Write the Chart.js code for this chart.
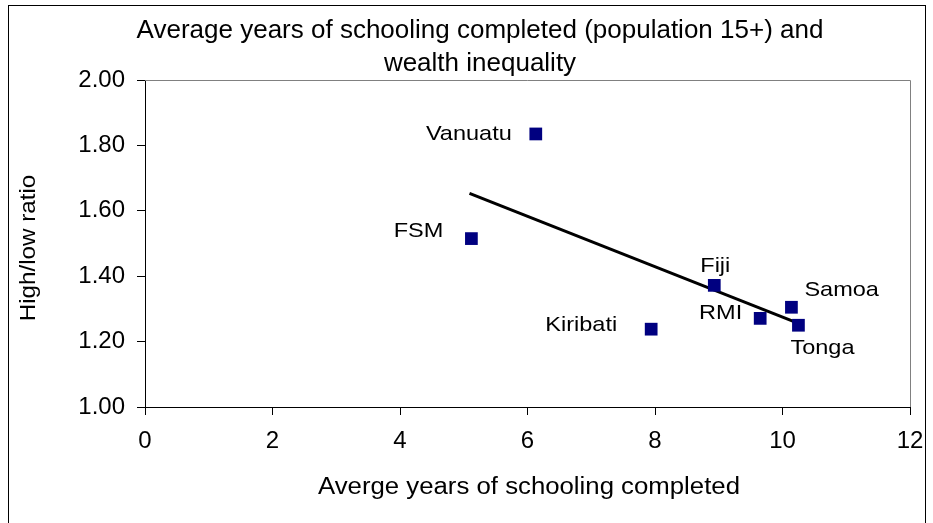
<!DOCTYPE html>
<html lang="en">
<head>
  <meta charset="UTF-8" />
  <title>Schooling and wealth inequality</title>
  <script src="https://cdn.jsdelivr.net/npm/chart.js"></script>
  <style>
    html, body { margin: 0; padding: 0; background: #fff; }
    #wrap { width: 933px; height: 523px; position: relative; }
  </style>
</head>
<body>
  <div id="wrap"><canvas id="chart" width="933" height="523"></canvas></div>

  <script>
    // data
    const countries = ['Vanuatu', 'FSM', 'Fiji', 'Kiribati', 'RMI', 'Samoa', 'Tonga'];
    const schooling = [6.13, 5.12, 8.93, 7.94, 9.65, 10.14, 10.25];
    const ratio = [1.835, 1.515, 1.372, 1.238, 1.271, 1.305, 1.250];
    const trendX = [5.09, 10.25];
    const trendY = [1.653, 1.256];
    const xTicks = [0, 2, 4, 6, 8, 10, 12];
    const yTicks = [1.0, 1.2, 1.4, 1.6, 1.8, 2.0];

    // label placement around the markers: [dx, dy, align]
    const labelPlace = [
      [-24, 0, 'right'],
      [-28, -7, 'right'],
      [1, -19, 'center'],
      [-34, -4, 'right'],
      [-18, -5, 'right'],
      [13, -17, 'left'],
      [-8, 23, 'left']
    ];

    const FONT = '"Liberation Sans", Arial, sans-serif';

    // text a little wider than the font, like the original
    function wideText(c, txt, x, y, size, sx, align) {
      c.save();
      c.font = size + 'px ' + FONT;
      c.textAlign = align;
      c.translate(x, y);
      c.scale(sx, 1);
      c.fillText(txt, 0, 0);
      c.restore();
    }

    // frame, titles, point labels
    const decorations = {
      id: 'decorations',
      beforeDraw(chart) {
        const c = chart.ctx;
        c.save();
        c.fillStyle = '#fff';
        c.fillRect(0, 0, chart.width, chart.height);
        c.strokeStyle = '#000';
        c.lineWidth = 1;
        c.strokeRect(8.5, 5.5, 917, 530);
        c.restore();
      },
      afterDraw(chart) {
        const c = chart.ctx;
        const a = chart.chartArea;
        const xs = chart.scales.x, ys = chart.scales.y;
        c.save();
        // gray plot border (top, right)
        c.strokeStyle = '#808080';
        c.lineWidth = 1;
        c.beginPath();
        c.moveTo(a.left, Math.round(a.top) + 0.5);
        c.lineTo(Math.round(a.right) + 0.5, Math.round(a.top) + 0.5);
        c.lineTo(Math.round(a.right) + 0.5, a.bottom);
        c.stroke();

        c.fillStyle = '#000';
        c.textBaseline = 'alphabetic';
        wideText(c, 'Average years of schooling completed (population 15+) and', 480, 38, 25, 1.04, 'center');
        wideText(c, 'wealth inequality', 480, 71, 25, 1.04, 'center');
        wideText(c, 'Averge years of schooling completed', 529, 494, 23, 1.12, 'center');

        c.save();
        c.translate(35, 248);
        c.rotate(-Math.PI / 2);
        wideText(c, 'High/low ratio', 0, 0, 22, 1.1, 'center');
        c.restore();

        c.textBaseline = 'middle';
        countries.forEach((name, i) => {
          const p = labelPlace[i];
          wideText(c, name, xs.getPixelForValue(schooling[i]) + p[0], ys.getPixelForValue(ratio[i]) + p[1], 21, 1.12, p[2]);
        });
        c.restore();
      }
    };

    new Chart(document.getElementById('chart'), {
      type: 'scatter',
      data: {
        datasets: [
          {
            label: 'Countries',
            data: countries.map((n, i) => ({ x: schooling[i], y: ratio[i] })),
            pointStyle: 'rect',
            pointRadius: 9,
            pointHoverRadius: 9,
            backgroundColor: '#000080',
            borderWidth: 0
          },
          {
            label: 'Trend',
            type: 'line',
            data: trendX.map((x, i) => ({ x: x, y: trendY[i] })),
            showLine: true,
            borderColor: '#000',
            borderWidth: 3,
            pointRadius: 0,
            fill: false
          }
        ]
      },
      options: {
        responsive: false,
        animation: false,
        events: [],
        layout: { padding: { left: 0, top: 80, right: 23, bottom: 0 } },
        plugins: {
          legend: { display: false },
          title: { display: false },
          tooltip: { enabled: false }
        },
        scales: {
          x: {
            type: 'linear',
            min: 0, max: 12,
            afterBuildTicks(s) { s.ticks = xTicks.map(v => ({ value: v })); },
            afterFit(s) { s.height = 116; s.paddingRight = 0; s.paddingLeft = 0; },
            border: { display: true, color: '#000', width: 1 },
            grid: { drawOnChartArea: false, drawTicks: true, tickLength: 8, color: '#000' },
            ticks: { color: '#000', font: { family: FONT, size: 24 }, padding: 12, maxRotation: 0 }
          },
          y: {
            type: 'linear',
            min: 1, max: 2,
            afterBuildTicks(s) { s.ticks = yTicks.map(v => ({ value: v })); },
            afterFit(s) { s.width = 145; s.paddingTop = 0; s.paddingBottom = 0; },
            border: { display: true, color: '#000', width: 1 },
            grid: { drawOnChartArea: false, drawTicks: true, tickLength: 8, color: '#000' },
            ticks: {
              color: '#000',
              font: { family: FONT, size: 24 },
              padding: 12,
              callback: v => v.toFixed(2)
            }
          }
        }
      },
      plugins: [decorations]
    });
  </script>
</body>
</html>
